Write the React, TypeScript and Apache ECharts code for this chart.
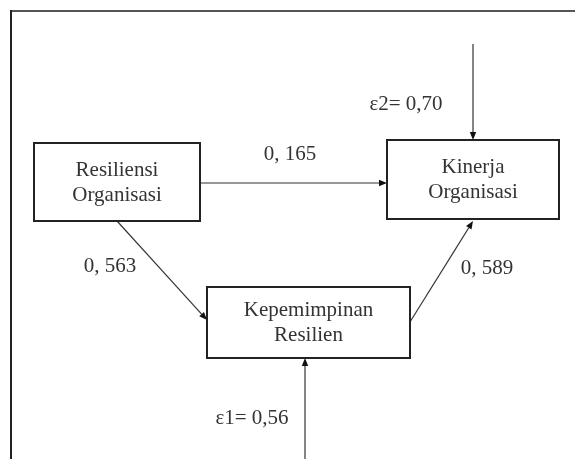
import React, { useEffect, useRef } from "react";
import * as echarts from "echarts";

// Variables (constructs) in the path model
const nodeNames = ["Resiliensi\nOrganisasi", "Kinerja\nOrganisasi", "Kepemimpinan\nResilien"];
// Path coefficients
const pathLabels = ["0, 165", "0, 563", "0, 589"];
// Error terms
const errorLabels = ["ε2= 0,70", "ε1= 0,56"];

const FONT = "'Liberation Serif', 'DejaVu Serif', serif";
const TEXT = "#333";
const LINE = "#333";

function arrow(x1: number, y1: number, x2: number, y2: number): any[] {
  const dx = x2 - x1, dy = y2 - y1;
  const len = Math.hypot(dx, dy);
  const ux = dx / len, uy = dy / len;
  const L = 8, W = 3.2;
  const bx = x2 - ux * L, by = y2 - uy * L;
  return [
    { type: "line", shape: { x1, y1, x2: bx, y2: by }, style: { stroke: LINE, lineWidth: 1.2 } },
    {
      type: "polygon",
      shape: { points: [[x2, y2], [bx - uy * W, by + ux * W], [bx + uy * W, by - ux * W]] },
      style: { fill: "#111" },
    },
  ];
}

function box(x: number, y: number, w: number, h: number, label: string): any[] {
  return [
    { type: "rect", shape: { x, y, width: w, height: h }, style: { fill: "#fff", stroke: "#222", lineWidth: 2 } },
    {
      type: "text",
      x: x + w / 2,
      y: y + h / 2 - 1,
      style: { text: label, fill: TEXT, font: `21px ${FONT}`, align: "center", verticalAlign: "middle", lineHeight: 25 },
    },
  ];
}

function label(x: number, y: number, t: string): any {
  return { type: "text", x, y, style: { text: t, fill: TEXT, font: `21px ${FONT}`, align: "center", verticalAlign: "middle" } };
}

export default function App() {
  const ref = useRef<HTMLDivElement>(null);
  useEffect(() => {
    if (!ref.current) return;
    const chart = echarts.init(ref.current, null, { renderer: "svg" });
    const elements: any[] = [
      { type: "rect", shape: { x: 0, y: 0, width: 575, height: 459 }, style: { fill: "#fff" } },
      { type: "line", shape: { x1: 10, y1: 11, x2: 575, y2: 11 }, style: { stroke: "#555", lineWidth: 2 } },
      { type: "line", shape: { x1: 11, y1: 10, x2: 11, y2: 459 }, style: { stroke: "#222", lineWidth: 2 } },
      ...arrow(200, 183, 387, 183),
      ...arrow(117, 221, 207, 320),
      ...arrow(410, 322, 473, 221),
      ...arrow(473, 44, 473, 140),
      ...arrow(305, 459, 305, 358),
      ...box(34, 143, 166, 78, nodeNames[0]),
      ...box(387, 140, 172, 79, nodeNames[1]),
      ...box(207, 287, 203, 71, nodeNames[2]),
      label(290, 153, pathLabels[0]),
      label(110, 265, pathLabels[1]),
      label(487, 267, pathLabels[2]),
      label(406, 103, errorLabels[0]),
      label(252, 417, errorLabels[1]),
    ];
    chart.setOption({ animation: false, graphic: { elements } });
    return () => chart.dispose();
  }, []);
  return <div ref={ref} style={{ position: "fixed", left: 0, top: 0, width: 575, height: 459 }} />;
}
